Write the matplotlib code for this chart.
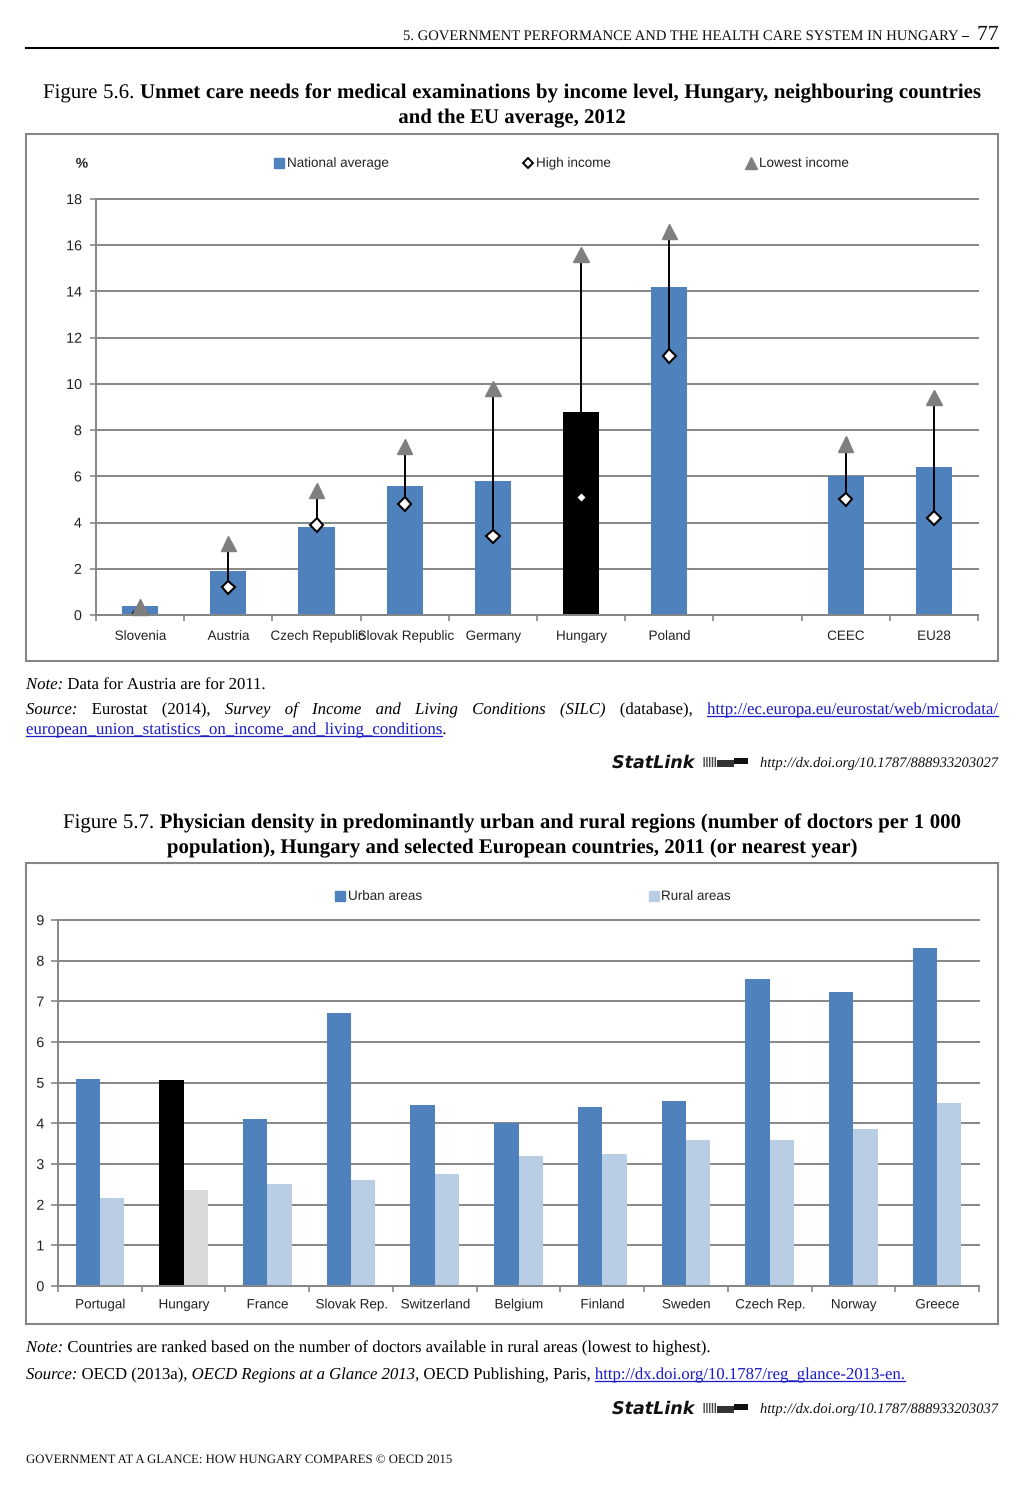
"""Two OECD health care charts laid out as one report page, saved to out.png."""
import matplotlib
matplotlib.use("Agg")
import numpy as np
import matplotlib.pyplot as plt
from matplotlib.font_manager import FontProperties
from matplotlib.patches import Rectangle
from matplotlib.patheffects import Normal
from matplotlib.textpath import TextToPath

plt.rcParams["text.hinting"] = "no_hinting"
plt.rcParams["text.hinting_factor"] = 1
# text goes through the path renderer so words on a line share one baseline
plt.rcParams["path.effects"] = [Normal()]

W, H = 1024, 1489
BLUE = "#4f81bd"
LIGHT = "#b9cde5"
GRID = "#868686"
LINK = "#1a1ac8"
SERIF = "Liberation Serif"
SANS = "Liberation Sans"
TEXT2PATH = TextToPath()

# figure 5.6
countries_a = ["Slovenia", "Austria", "Czech Republic", "Slovak Republic", "Germany",
               "Hungary", "Poland", "", "CEEC", "EU28"]
national = [0.4, 1.9, 3.8, 5.6, 5.8, 8.8, 14.2, np.nan, 6.0, 6.4]
high_income = [0.1, 1.2, 3.9, 4.8, 3.4, 5.1, 11.2, np.nan, 5.0, 4.2]
lowest_income = [0.35, 3.1, 5.4, 7.3, 9.8, 15.6, 16.6, np.nan, 7.4, 9.4]
ticks_a = list(range(0, 19, 2))

# figure 5.7
countries_b = ["Portugal", "Hungary", "France", "Slovak Rep.", "Switzerland", "Belgium",
               "Finland", "Sweden", "Czech Rep.", "Norway", "Greece"]
urban = [5.1, 5.07, 4.1, 6.72, 4.45, 4.0, 4.4, 4.55, 7.55, 7.23, 8.3]
rural = [2.17, 2.35, 2.5, 2.6, 2.75, 3.2, 3.25, 3.58, 3.6, 3.85, 4.5]
ticks_b = list(range(0, 10))


def px_axes(fig, left, top, right, bottom):
    return fig.add_axes([left / W, 1 - bottom / H, (right - left) / W, (bottom - top) / H])


def style_axes(ax, ticks, n, length, pad):
    ax.set_xlim(0, n)
    ax.set_ylim(ticks[0], ticks[-1])
    ax.set_yticks(ticks)
    ax.set_xticks(np.arange(n + 1))
    ax.set_xticklabels([])
    ax.grid(axis="y", color=GRID, lw=1.4)
    for line in ax.get_ygridlines():
        line.set_clip_on(False)
    ax.set_axisbelow(True)
    for side in ["top", "right"]:
        ax.spines[side].set_visible(False)
    for side in ["left", "bottom"]:
        ax.spines[side].set_color(GRID)
        ax.spines[side].set_linewidth(1.4)
    ax.tick_params(axis="y", color=GRID, width=1.2, length=length, pad=pad,
                   labelsize=10.3, labelcolor="#222222")
    ax.tick_params(axis="x", color=GRID, width=1.2, length=4)
    for lab in ax.get_yticklabels():
        lab.set_fontfamily(SANS)
    ax.patch.set_alpha(0)


def text_width(text, size, style="normal", weight="normal"):
    """Width in pixels of text as the path renderer draws it."""
    prop = FontProperties(family=SERIF, size=size, style=style, weight=weight)
    w, _, _ = TEXT2PATH.get_text_width_height_descent(text, prop, False)
    return w * 100 / 72


def draw_runs(page, x, y, runs, size, end=None):
    """Write (text, style, weight, colour, underline) runs on a baseline, justified up to end."""
    words = []
    for text, style, weight, color, under in runs:
        for w in text.split(" "):
            kw = dict(family=SERIF, fontsize=size, style=style, weight=weight)
            words.append((w, kw, color, under, text_width(w, size, style, weight)))
    total = sum(w[4] for w in words)
    gap = size * 100 / 72 * 0.25
    if end is not None and len(words) > 1:
        gap = (end - x - total) / (len(words) - 1)
    for w, kw, color, under, width in words:
        page.text(x, y, w, color=color, va="baseline", ha="left", **kw)
        if under:
            page.plot([x, x + width], [y + 2, y + 2], color=color, lw=0.9)
        x += width + gap
    return x - gap


def centre_runs(page, cx, y, runs, size):
    total = 0
    for text, style, weight, color, under in runs:
        total += text_width(text, size, style, weight)
    draw_runs(page, cx - total / 2, y, runs, size)


def statlink(page, y, url):
    page.text(612, y + 1, "StatLink", family="DejaVu Sans", style="oblique", weight="bold",
              fontsize=12.6, color="#111111", va="baseline")
    page.add_patch(Rectangle((703, y - 10), 14, 10, fc="white", ec="#444444", lw=0,
                             hatch="||||||"))
    page.add_patch(Rectangle((717, y - 7), 17, 7, fc="#333333", ec="none"))
    page.add_patch(Rectangle((734, y - 9), 14, 6, fc="#111111", ec="none"))
    width = text_width(url, 10.5, "italic")
    page.text(998 - width, y, url, family=SERIF, style="italic", fontsize=10.5, color="#111111",
              ha="left", va="baseline")


def chart_label(page, x, y, text, ha="left"):
    page.text(x, y, text, family=SANS, fontsize=9.7, color="#222222", ha=ha, va="center")


def plot_income(fig, page):
    ax = px_axes(fig, 96, 199, 978, 615)
    n = len(countries_a)
    style_axes(ax, ticks_a, n, 4, 6.3)
    x = np.arange(n) + 0.5
    colors = ["black" if c == "Hungary" else BLUE for c in countries_a]
    ax.bar(x, national, width=0.41, color=colors, zorder=2)
    ax.vlines(x, high_income, lowest_income, color="black", lw=1.4, zorder=3)
    for xi, val, c in zip(x, high_income, countries_a):
        if c == "Hungary":
            ax.plot(xi, val, marker="D", ms=5, mfc="white", mec="black", mew=1, zorder=4)
        else:
            ax.plot(xi, val, marker="D", ms=6.8, mfc="white", mec="black", mew=1.5, zorder=4)
    ax.plot(x, lowest_income, ls="none", marker="^", ms=11, mfc="#7f7f7f", mec="#7f7f7f",
            zorder=5, clip_on=False)
    for xi, c in zip(x, countries_a):
        chart_label(page, 96 + xi * 882 / n - 0.5, 636.5, c, ha="center")


def plot_density(fig, page):
    ax = px_axes(fig, 58, 920, 979, 1286)
    n = len(countries_b)
    style_axes(ax, ticks_b, n, 5, 5)
    x = np.arange(n) + 0.5
    dark = ["black" if c == "Hungary" else BLUE for c in countries_b]
    pale = ["#d9d9d9" if c == "Hungary" else LIGHT for c in countries_b]
    ax.bar(x - 0.145, urban, width=0.29, color=dark, zorder=2)
    ax.bar(x + 0.145, rural, width=0.29, color=pale, zorder=2)
    for xi, c in zip(x, countries_b):
        chart_label(page, 58 + xi * 921 / n - 0.5, 1305, c, ha="center")


def main():
    fig = plt.figure(figsize=(W / 100, H / 100), dpi=100, facecolor="white")
    page = fig.add_axes([0, 0, 1, 1], zorder=5)
    page.set_xlim(0, W)
    page.set_ylim(H, 0)
    page.axis("off")
    page.patch.set_alpha(0)

    # running head
    page.text(403, 40, "5. GOVERNMENT PERFORMANCE AND THE HEALTH CARE SYSTEM IN HUNGARY",
              family=SERIF, fontsize=10.55, color="#111111", ha="left", va="baseline")
    page.text(962, 40, "\u2013", family=SERIF, fontsize=10.55, color="#111111", va="baseline")
    page.text(977, 40, "77", family=SERIF, fontsize=15.5, color="#111111", va="baseline")
    page.plot([26, 998], [48, 48], color="black", lw=1.5)

    plain = lambda s: (s, "normal", "normal", "black", False)
    bold = lambda s: (s, "normal", "bold", "black", False)
    ital = lambda s: (s, "italic", "normal", "black", False)
    link = lambda s: (s, "normal", "normal", LINK, True)

    # figure 5.6 text
    draw_runs(page, 43, 98, [plain("Figure 5.6."),
              bold("Unmet care needs for medical examinations by income level, Hungary, neighbouring countries")],
              15, end=981)
    centre_runs(page, 512, 123, [bold("and the EU average, 2012")], 15)
    page.add_patch(Rectangle((26, 134), 972, 527, fc="none", ec=GRID, lw=1.5))
    page.text(82, 164, "%", family=SANS, weight="bold", fontsize=10, color="#222222",
              ha="center", va="center")
    page.plot(279, 163, marker="s", ms=7, color=BLUE, ls="none")
    chart_label(page, 287, 163.5, "National average")
    page.plot(528, 163, marker="D", ms=5.5, mfc="white", mec="black", mew=1.4, ls="none")
    chart_label(page, 536, 163.5, "High income")
    page.plot(751, 163, marker="^", ms=9, color="#7f7f7f", ls="none")
    chart_label(page, 759, 163.5, "Lowest income")
    plot_income(fig, page)

    draw_runs(page, 26, 689, [ital("Note:"), plain("Data for Austria are for 2011.")], 12.05)
    draw_runs(page, 26, 714, [ital("Source:"), plain("Eurostat (2014),"),
              ital("Survey of Income and Living Conditions (SILC)"), plain("(database),"),
              link("http://ec.europa.eu/eurostat/web/microdata/")], 12.05, end=998)
    tail = draw_runs(page, 26, 734, [link("european_union_statistics_on_income_and_living_conditions")], 12.1)
    page.text(tail, 734, ".", family=SERIF, fontsize=12.1, va="baseline")
    statlink(page, 767, "http://dx.doi.org/10.1787/888933203027")

    # figure 5.7 text
    draw_runs(page, 63, 828, [plain("Figure 5.7."),
              bold("Physician density in predominantly urban and rural regions (number of doctors per 1 000")],
              15, end=961)
    centre_runs(page, 512, 853,
                [bold("population), Hungary and selected European countries, 2011 (or nearest year)")], 15)
    page.add_patch(Rectangle((26, 863), 972, 461, fc="none", ec=GRID, lw=1.5))
    page.plot(340, 896, marker="s", ms=7, color=BLUE, ls="none")
    chart_label(page, 348, 896.5, "Urban areas")
    page.plot(654, 896, marker="s", ms=7, color=LIGHT, ls="none")
    chart_label(page, 661, 896.5, "Rural areas")
    plot_density(fig, page)

    draw_runs(page, 26, 1352, [ital("Note:"),
              plain("Countries are ranked based on the number of doctors available in rural areas (lowest to highest).")],
              12.05)
    draw_runs(page, 26, 1379, [ital("Source:"), plain("OECD (2013a),"), ital("OECD Regions at a Glance 2013,"),
              plain("OECD Publishing, Paris,"), link("http://dx.doi.org/10.1787/reg_glance-2013-en.")],
              12.05, end=905)
    statlink(page, 1413, "http://dx.doi.org/10.1787/888933203037")

    page.text(26, 1463, "GOVERNMENT AT A GLANCE: HOW HUNGARY COMPARES \u00a9 OECD 2015",
              family=SERIF, fontsize=9.2, color="#111111", va="baseline")

    page.set_xlim(0, W)
    page.set_ylim(H, 0)
    fig.savefig("out.png", dpi=100, facecolor="white")
    plt.close(fig)


if __name__ == "__main__":
    main()
